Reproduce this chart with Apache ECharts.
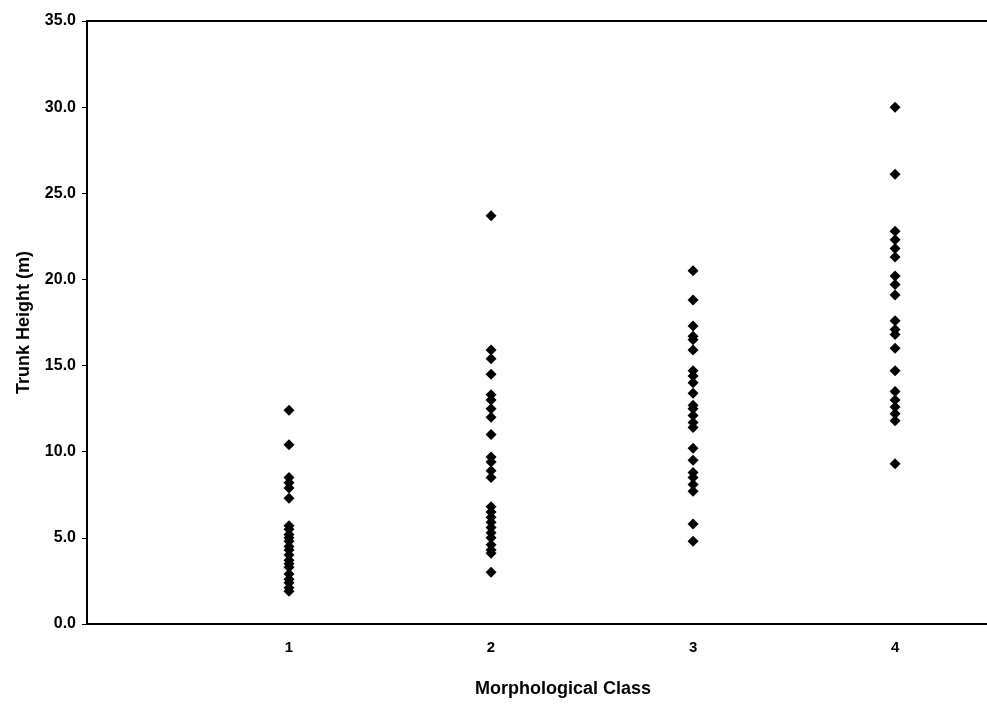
<!DOCTYPE html>
<html>
<head>
<meta charset="utf-8">
<script src="https://cdn.jsdelivr.net/npm/echarts@6/dist/echarts.min.js"></script>
<style>
  html, body { margin: 0; padding: 0; background: #fff; }
  #main { width: 987px; height: 709px; }
</style>
</head>
<body>
<div id="main"></div>
<script>
// trunk heights (m), one list per morphological class
var classIds = [1, 2, 3, 4];
var class1Heights = [12.4, 10.4, 8.5, 8.2, 7.9, 7.3, 5.7, 5.5, 5.2, 5.0, 4.8, 4.5, 4.3, 4.0, 3.7, 3.5, 3.3, 2.9, 2.6, 2.4, 2.1, 1.9];
var class2Heights = [23.7, 15.9, 15.4, 14.5, 13.3, 13.0, 12.5, 12.0, 11.0, 9.7, 9.4, 8.9, 8.5, 6.8, 6.5, 6.2, 5.9, 5.6, 5.3, 5.0, 4.6, 4.3, 4.1, 3.0];
var class3Heights = [20.5, 18.8, 17.3, 16.7, 16.5, 15.9, 14.7, 14.4, 14.0, 13.4, 12.7, 12.5, 12.1, 11.7, 11.4, 10.2, 9.5, 8.8, 8.5, 8.1, 7.7, 5.8, 4.8];
var class4Heights = [30.0, 26.1, 22.8, 22.3, 21.8, 21.3, 20.2, 19.7, 19.1, 17.6, 17.1, 16.8, 16.0, 14.7, 13.5, 13.0, 12.6, 12.2, 11.8, 9.3];

var allHeights = [class1Heights, class2Heights, class3Heights, class4Heights];

var points = [];
classIds.forEach(function (c, i) {
  allHeights[i].forEach(function (h) { points.push([c, h]); });
});

var FONT = '"Liberation Sans", Arial, sans-serif';
var X_MAX = 4.455;

var chart = echarts.init(document.getElementById('main'));

chart.setOption({
  animation: false,
  grid: { left: 87, right: 0, top: 21, bottom: 85 },
  xAxis: [{
    type: 'value',
    min: 0,
    max: X_MAX,
    interval: 1,
    name: 'Morphological Class',
    nameLocation: 'middle',
    nameGap: 56,
    nameTextStyle: { fontFamily: FONT, fontWeight: 'bold', fontSize: 18, color: '#000', padding: [0, 0, 0, 52] },
    splitLine: { show: false },
    axisTick: { show: false },
    axisLine: { lineStyle: { color: '#000', width: 2 } },
    axisLabel: {
      margin: 16,
      fontFamily: FONT, fontWeight: 'bold', fontSize: 15, color: '#000',
      showMaxLabel: false,
      formatter: function (v) { return (v >= 1 && v <= 4) ? String(v) : ''; }
    }
  }, {
    // top frame line only
    type: 'value',
    position: 'top',
    min: 0,
    max: X_MAX,
    axisLine: { show: true, lineStyle: { color: '#000', width: 2 } },
    axisTick: { show: false },
    axisLabel: { show: false },
    splitLine: { show: false }
  }],
  yAxis: {
    type: 'value',
    min: 0,
    max: 35,
    interval: 5,
    name: 'Trunk Height (m)',
    nameLocation: 'middle',
    nameGap: 54,
    nameTextStyle: { fontFamily: FONT, fontWeight: 'bold', fontSize: 18, color: '#000' },
    splitLine: { show: false },
    axisLine: { show: true, lineStyle: { color: '#000', width: 2 } },
    axisTick: { show: true, length: 5, lineStyle: { color: '#000', width: 1 } },
    axisLabel: {
      margin: 11,
      fontFamily: FONT, fontWeight: 'bold', fontSize: 16, color: '#000',
      formatter: function (v) { return v.toFixed(1); }
    }
  },
  series: [{
    type: 'scatter',
    xAxisIndex: 0,
    symbol: 'diamond',
    symbolSize: [11, 11],
    itemStyle: { color: '#000', opacity: 1 },
    data: points
  }]
});
</script>
</body>
</html>
